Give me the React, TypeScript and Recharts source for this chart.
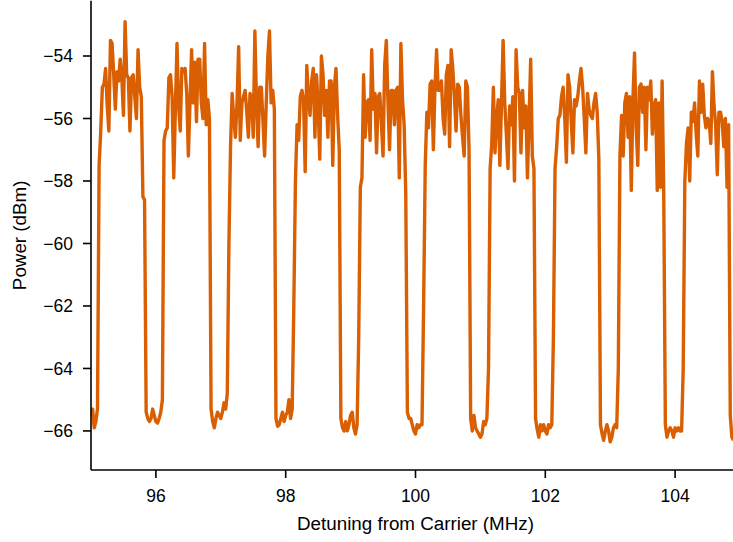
import { LineChart, Line, XAxis, YAxis } from 'recharts';

// Spectrum trace, sampled every 25 kHz; one array per 1 MHz channel period
const FREQ_STEP = 0.025;
const PERIOD_STARTS = [95, 96, 97, 98, 99, 100, 101, 102, 103, 104];

const period95 = [
  -65.5, -65.3, -65.9, -65.7, -65.3, -57.5,
  -56.4, -55.0, -54.9, -54.4, -55.6, -56.4, -53.5, -53.6, -54.6, -55.7,
  -54.5, -54.8, -54.1, -54.7, -55.9, -52.9, -54.6, -54.7, -56.4, -54.7,
  -54.6, -55.3, -56.0, -53.8, -55.0, -55.3, -58.5, -58.6,
  -65.4, -65.6, -65.7, -65.6, -65.3, -65.5,
];
const period96 = [
  -65.7, -65.75, -65.6, -65.4, -65.0, -56.7,
  -56.4, -56.3, -54.7, -54.6, -55.3, -57.9, -55.7, -53.6, -55.6, -56.4,
  -54.4, -54.5, -54.4, -55.2, -57.2, -55.5, -53.8, -55.5, -54.2, -56.1,
  -54.1, -54.1, -55.5, -56.0, -53.6, -56.2, -55.4, -56.0,
  -65.3, -65.7, -65.9, -65.6, -65.4, -65.5,
];
const period97 = [
  -65.6, -65.4, -65.1, -65.3, -64.8, -60.0,
  -56.9, -55.2, -56.0, -56.6, -55.5, -53.7, -56.7, -55.5, -55.3, -55.1,
  -55.8, -56.6, -55.2, -55.3, -56.6, -53.2, -55.5, -56.9, -55.0, -55.0,
  -56.1, -57.2, -55.5, -54.0, -53.2, -55.5, -55.1, -55.7,
  -65.6, -65.85, -65.8, -65.6, -65.4, -65.7,
];
const period98 = [
  -65.5, -65.4, -65.0, -65.6, -65.3, -62.0,
  -58.0, -56.2, -56.7, -55.3, -55.1, -55.4, -57.7, -54.3, -55.3, -55.9,
  -54.8, -54.4, -56.6, -54.6, -55.6, -57.3, -54.0, -54.6, -55.9, -55.1,
  -56.6, -54.8, -54.8, -57.5, -55.0, -54.4, -55.9, -57.0,
  -65.6, -65.9, -66.0, -65.7, -66.0, -65.8,
];
const period99 = [
  -65.5, -65.4, -65.9, -66.1, -65.8, -63.0,
  -58.2, -57.9, -54.6, -56.6, -55.5, -55.4, -56.7, -53.8, -55.7, -55.2,
  -57.1, -55.3, -55.2, -56.2, -57.2, -54.3, -53.5, -55.4, -57.0, -55.1,
  -55.1, -56.2, -55.1, -55.0, -57.9, -53.6, -55.4, -56.2,
  -58.4, -65.4, -65.6, -65.6, -65.8, -66.0,
];
const period100 = [
  -66.1, -65.8, -65.9, -65.8, -65.8, -62.0,
  -57.5, -55.8, -56.3, -54.9, -54.8, -57.0, -55.0, -53.8, -55.1, -55.1,
  -54.8, -56.0, -56.5, -54.6, -54.3, -56.9, -53.8, -54.4, -55.3, -56.4,
  -54.9, -55.0, -55.9, -56.6, -57.2, -54.8, -55.0, -57.0,
  -65.6, -66.0, -65.5, -65.9, -66.0, -66.1,
];
const period101 = [
  -66.2, -66.1, -65.7, -65.8, -65.6, -64.0,
  -57.6, -56.8, -55.0, -57.1, -56.0, -55.4, -57.5, -55.5, -53.5, -55.5,
  -56.5, -57.6, -55.6, -56.2, -55.3, -58.0, -53.8, -55.0, -55.2, -57.1,
  -55.1, -56.3, -55.6, -57.9, -56.0, -54.1, -57.2, -57.6,
  -65.6, -65.95, -66.2, -65.8, -66.0, -65.8,
];
const period102 = [
  -66.0, -66.1, -65.8, -65.9, -65.8, -63.0,
  -57.6, -56.9, -56.0, -55.9, -55.3, -55.0, -56.0, -57.4, -54.6, -55.0,
  -56.1, -57.1, -55.4, -55.6, -55.3, -54.8, -54.4, -55.0, -56.0, -57.1,
  -55.2, -55.7, -55.9, -56.0, -55.5, -55.2, -55.8, -57.3,
  -65.8, -66.1, -66.3, -66.0, -65.8, -66.0,
];
const period103 = [
  -66.35, -66.2, -65.9, -65.8, -65.9, -64.0,
  -57.2, -55.9, -57.2, -55.5, -55.2, -56.6, -55.3, -58.3, -55.4, -53.9,
  -56.3, -57.5, -55.0, -54.9, -55.8, -55.0, -57.0, -55.0, -55.4, -54.8,
  -56.5, -55.6, -55.4, -58.3, -55.5, -58.2, -54.8, -58.4,
  -65.8, -66.2, -66.0, -65.9, -66.0, -66.2,
];
const period104 = [
  -65.9, -66.0, -65.9, -66.0, -66.0, -64.0,
  -58.0, -56.8, -56.3, -58.0, -55.8, -56.1, -55.5, -56.5, -57.2, -54.8,
  -55.8, -54.9, -55.9, -56.3, -56.0, -56.1, -56.8, -54.5, -55.6, -56.2,
  -57.8, -55.8, -55.8, -56.1, -56.9, -56.0, -58.2, -56.2,
  -65.5, -66.2, -66.3,
];

const POWER_PERIODS = [
  period95, period96, period97, period98, period99,
  period100, period101, period102, period103, period104,
];

const X_TICKS = [96, 98, 100, 102, 104];
const Y_TICKS = [-66, -64, -62, -60, -58, -56, -54];

const TRACE_COLOR = '#d95f02';
const FONT = '"Liberation Sans", Arial, Helvetica, sans-serif';
const TICK_FONT = 17.5;
const LABEL_FONT = 18.8;

const data = PERIOD_STARTS.flatMap((start, k) =>
  POWER_PERIODS[k].map((power, i) => ({
    freq: +(start + i * FREQ_STEP).toFixed(3),
    power,
  }))
);

const minus = (v: number) => String(v).replace('-', '\u2212');

const axisStroke = { stroke: '#000', strokeWidth: 1.6 };

function YLabel(props: any) {
  const vb = props.viewBox || { x: 0, y: 0, width: 91, height: 470 };
  const cx = vb.x + 26;
  const cy = vb.y + vb.height / 2;
  return (
    <text
      x={cx}
      y={cy}
      transform={`rotate(-90 ${cx} ${cy})`}
      textAnchor="middle"
      fill="#000"
      fontSize={LABEL_FONT}
      fontFamily={FONT}
    >
      Power (dBm)
    </text>
  );
}

export default function App() {
  return (
    <div style={{ position: 'absolute', left: 0, top: 0, fontFamily: FONT, background: '#fff' }}>
      <LineChart
        width={741}
        height={542}
        data={data}
        margin={{ top: 0.7, right: 1, left: 0, bottom: 0 }}
      >
        <XAxis
          dataKey="freq"
          type="number"
          domain={[95, 105]}
          ticks={X_TICKS}
          allowDataOverflow
          height={72}
          tickSize={8}
          tickMargin={12}
          tick={{ fill: '#000', fontSize: TICK_FONT, fontFamily: FONT }}
          tickLine={axisStroke}
          axisLine={axisStroke}
          label={{
            value: 'Detuning from Carrier (MHz)',
            position: 'insideBottom',
            offset: 12,
            fill: '#000',
            fontSize: LABEL_FONT,
            fontFamily: FONT,
          }}
        />
        <XAxis
          xAxisId="top"
          orientation="top"
          type="number"
          domain={[95, 105]}
          height={0}
          tick={false}
          tickLine={false}
          axisLine={axisStroke}
        />
        <YAxis
          type="number"
          domain={[-67.25, -52.23]}
          ticks={Y_TICKS}
          allowDataOverflow
          width={91}
          tickSize={8}
          tickMargin={10}
          tickFormatter={minus}
          tick={{ fill: '#000', fontSize: TICK_FONT, fontFamily: FONT }}
          tickLine={axisStroke}
          axisLine={axisStroke}
          label={{ content: <YLabel /> } as any}
        />
        <Line
          type="linear"
          dataKey="power"
          stroke={TRACE_COLOR}
          strokeWidth={3.4}
          strokeLinejoin="round"
          dot={false}
          activeDot={false}
          isAnimationActive={false}
        />
      </LineChart>
    </div>
  );
}
